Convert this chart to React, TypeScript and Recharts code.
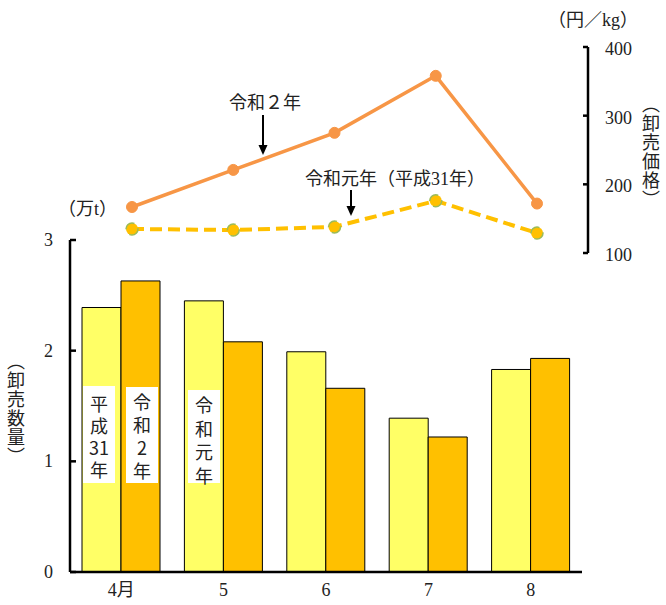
import React from "react";
import { ComposedChart, Bar, Line, XAxis, YAxis } from "recharts";

const months = ["4月", "5", "6", "7", "8"];
const volumeH31 = [2.39, 2.45, 1.99, 1.39, 1.83];
const volumeR2 = [2.63, 2.08, 1.66, 1.22, 1.93];
const priceR2 = [167, 221, 275, 358, 172];
const priceR1 = [135, 133.5, 138, 176, 129];
const volumeTicks = [0, 1, 2, 3];
const priceTicks = [100, 200, 300, 400];

const barData = months.map((m, i) => ({ m, h31: volumeH31[i], r2: volumeR2[i] }));
const lineData = months.map((m, i) => ({ m, r2: priceR2[i], r1: priceR1[i] }));

const FONT = "'Liberation Serif', 'DejaVu Serif', 'Noto Sans CJK JP', serif";
const CJK = "'Noto Sans CJK JP', sans-serif";

const LeftTick = (props: any) => {
  const { x, y, payload } = props;
  return (
    <g>
      <line x1={x} x2={x + 6} y1={y} y2={y} stroke="#000" strokeWidth={2.5} />
      <text x={x - 17} y={y} textAnchor="end" dominantBaseline="central" fontFamily={FONT} fontSize={18} fill="#222">
        {payload.value}
      </text>
    </g>
  );
};

const RightTick = (props: any) => {
  const { x, y, payload } = props;
  return (
    <g>
      <line x1={x - 5} x2={x} y1={y} y2={y} stroke="#000" strokeWidth={2.5} />
      <text x={x + 17} y={y + 2} textAnchor="start" dominantBaseline="central" fontFamily={FONT} fontSize={18} fill="#222">
        {payload.value}
      </text>
    </g>
  );
};

const BottomTick = (props: any) => {
  const { x, y, payload } = props;
  return (
    <text x={x} y={y + 10} textAnchor="middle" dominantBaseline="central" fontFamily={FONT} fontSize={18} fill="#222">
      {payload.value}
    </text>
  );
};

const VTitle = ({ x, y, text }: { x: number; y: number; text: string }) => (
  <text x={x} y={y} fontFamily={CJK} fontSize={18} fill="#222" style={{ writingMode: "vertical-rl" as any }} letterSpacing={1}>
    {text}
  </text>
);

const VText = ({ x, y0, step, chars, size = 18 }: { x: number; y0: number; step: number; chars: string[]; size?: number }) => (
  <text textAnchor="middle" dominantBaseline="central" fontFamily={CJK} fontSize={size} fill="#222">
    {chars.map((c, i) => (
      <tspan key={i} x={x} y={y0 + i * step}>
        {c}
      </tspan>
    ))}
  </text>
);

const Arrow = ({ x, y1, y2 }: { x: number; y1: number; y2: number }) => (
  <g>
    <line x1={x} x2={x} y1={y1} y2={y2 - 8} stroke="#000" strokeWidth={2} />
    <polygon points={`${x - 4.5},${y2 - 10} ${x + 4.5},${y2 - 10} ${x},${y2}`} fill="#000" />
  </g>
);

export default function App() {
  return (
    <div style={{ position: "absolute", left: 0, top: 0, width: 666, height: 605, background: "#fff" }}>
      <div style={{ position: "absolute", left: 0, top: 0 }}>
        <ComposedChart width={666} height={605} data={barData} margin={{ top: 240, right: 84, left: 0, bottom: 0 }} barCategoryGap={12} barGap={0}>
          <XAxis dataKey="m" height={33} axisLine={{ stroke: "#000", strokeWidth: 2.5 }} tickLine={false} tick={<BottomTick />} interval={0} />
          <YAxis width={70} domain={[0, 3]} ticks={volumeTicks} axisLine={{ stroke: "#000", strokeWidth: 2.5 }} tickLine={false} tickSize={0} tickMargin={0} tick={<LeftTick />} />
          <Bar dataKey="h31" fill="#FFFF66" stroke="#000" strokeWidth={1} isAnimationActive={false} />
          <Bar dataKey="r2" fill="#FFC000" stroke="#000" strokeWidth={1} isAnimationActive={false} />
        </ComposedChart>
      </div>
      <div style={{ position: "absolute", left: 0, top: 0 }}>
        <ComposedChart width={666} height={605} data={lineData} margin={{ top: 47, right: 0, left: 132, bottom: 352 }}>
          <XAxis dataKey="m" hide padding={{ left: 0, right: 51 }} />
          <YAxis yAxisId="p" orientation="right" width={78} domain={[100, 400]} ticks={priceTicks} axisLine={{ stroke: "#000", strokeWidth: 2.5 }} tickLine={false} tickSize={0} tickMargin={0} tick={<RightTick />} />
          <Line yAxisId="p" dataKey="r1" stroke="#FFC000" strokeWidth={4} strokeDasharray="12 6" dot={{ r: 6, fill: "#FFC000", stroke: "#9BBB59", strokeWidth: 1.5 }} isAnimationActive={false} />
          <Line yAxisId="p" dataKey="r2" stroke="#F79646" strokeWidth={3.5} dot={{ r: 5.5, fill: "#F79646", stroke: "#F79646", strokeWidth: 1 }} isAnimationActive={false} />
        </ComposedChart>
      </div>
      <svg width={666} height={605} style={{ position: "absolute", left: 0, top: 0, pointerEvents: "none" }}>
        <text x={58} y={209} dominantBaseline="central" fontFamily={FONT} fontSize={18} fill="#222">（万t）</text>
        <text x={548} y={20} dominantBaseline="central" fontFamily={FONT} fontSize={18} fill="#222">（円／kg）</text>
        <VTitle x={651} y={95} text="（卸売価格）" />
        <VTitle x={16} y={352} text="（卸売数量）" />
        <text x={229} y={103} dominantBaseline="central" fontFamily={FONT} fontSize={18} fill="#222">令和２年</text>
        <Arrow x={263} y1={115} y2={155} />
        <text x={305} y={179} dominantBaseline="central" fontFamily={FONT} fontSize={18} fill="#222">令和元年（平成31年）</text>
        <Arrow x={351} y1={190} y2={216} />
        <rect x={83} y={386} width={32} height={97} fill="#fff" />
        <VText x={99} y0={403} step={22} chars={["平", "成", "31", "年"]} />
        <rect x={126} y={387} width={32} height={96} fill="#fff" />
        <VText x={142} y0={401} step={23} chars={["令", "和", "2", "年"]} />
        <rect x={188} y={390} width={32} height={93} fill="#fff" />
        <VText x={204} y0={404} step={23.5} chars={["令", "和", "元", "年"]} />
      </svg>
    </div>
  );
}
